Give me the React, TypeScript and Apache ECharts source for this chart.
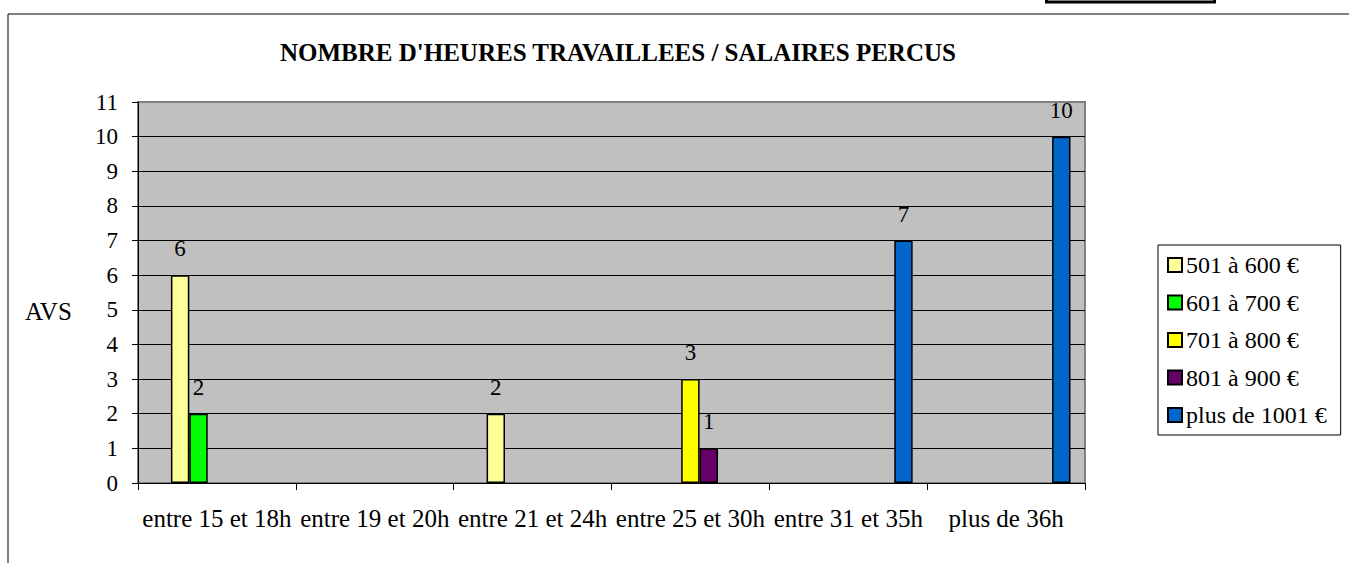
import React, { useEffect, useRef } from "react";
import * as echarts from "echarts";

const categories = [
  "entre 15 et 18h",
  "entre 19 et 20h",
  "entre 21 et 24h",
  "entre 25 et 30h",
  "entre 31 et 35h",
  "plus de 36h",
];

const seriesNames = ["", "501 à 600 €", "601 à 700 €", "701 à 800 €", "801 à 900 €", " ", "plus de 1001 €"];
const seriesColors = ["#FFFFFF", "#FFFF99", "#00FF00", "#FFFF00", "#660066", "#FFFFFF", "#0066CC"];

const emptyValues = [null, null, null, null, null, null];
const values501 = [6, null, 2, null, null, null];
const values601 = [2, null, null, null, null, null];
const values701 = [null, null, null, 3, null, null];
const values801 = [null, null, null, 1, null, null];
const values1001 = [null, null, null, null, 7, 10];

const seriesValues = [emptyValues, values501, values601, values701, values801, emptyValues, values1001];
const legendNames = ["501 à 600 €", "601 à 700 €", "701 à 800 €", "801 à 900 €", "plus de 1001 €"];

const yMin = 0;
const yMax = 11;
const yInterval = 1;

const FONT = "Liberation Serif";

export default function App() {
  const ref = useRef<HTMLDivElement>(null);
  useEffect(() => {
    if (!ref.current) return;
    const chart = echarts.init(ref.current, null, { renderer: "svg" });
    const splitColors: string[] = [];
    for (let v = yMin; v <= yMax; v += yInterval) splitColors.push(v === yMax ? "#808080" : "#000000");
    chart.setOption({
      animation: false,
      backgroundColor: "#FFFFFF",
      textStyle: { fontFamily: FONT, color: "#000" },
      title: {
        text: "NOMBRE D'HEURES TRAVAILLEES / SALAIRES PERCUS",
        left: 280,
        top: 40,
        padding: 0,
        textStyle: { fontFamily: FONT, fontWeight: "bold", fontSize: 25, color: "#000" },
      },
      legend: {
        data: legendNames,
        orient: "vertical",
        left: 1158,
        top: 245,
        padding: [8, 14, 8, 9],
        itemGap: 13.5,
        itemWidth: 14,
        itemHeight: 14,
        icon: "rect",
        borderColor: "#000",
        borderWidth: 1,
        textStyle: { fontFamily: FONT, fontSize: 24, color: "#000", padding: [0, 0, 0, -1] },
      },
      grid: {
        left: 138,
        top: 102,
        right: 264,
        bottom: 80,
        show: true,
        backgroundColor: "#C0C0C0",
        borderColor: "#808080",
        borderWidth: 2,
        containLabel: false,
      },
      xAxis: {
        type: "category",
        data: categories,
        boundaryGap: true,
        axisLine: { lineStyle: { color: "#000", width: 1 } },
        axisTick: { show: true, alignWithLabel: false, length: 7, lineStyle: { color: "#000" } },
        axisLabel: { fontFamily: FONT, fontSize: 25, color: "#000", margin: 23, interval: 0 },
        splitLine: { show: false },
      },
      yAxis: {
        type: "value",
        min: yMin,
        max: yMax,
        interval: yInterval,
        axisLine: { show: true, lineStyle: { color: "#000", width: 1 } },
        axisTick: { show: true, length: 6, lineStyle: { color: "#000" } },
        axisLabel: { fontFamily: FONT, fontSize: 23, color: "#000", margin: 20 },
        splitLine: { show: true, lineStyle: { color: splitColors, width: 1 } },
      },
      graphic: [
        {
          type: "rect",
          shape: { x: 8, y: 14, width: 1400, height: 600 },
          style: { fill: "none", stroke: "#000", lineWidth: 1 },
          silent: true,
          z: -1,
        },
        {
          type: "rect",
          shape: { x: 1046.5, y: -10, width: 168, height: 12 },
          style: { fill: "#fff", stroke: "#000", lineWidth: 3 },
          silent: true,
        },
        {
          type: "text",
          left: 25,
          top: 299,
          style: { text: "AVS", fontFamily: FONT, fontSize: 25, fill: "#000" },
          silent: true,
        },
      ],
      series: seriesValues.map((vals, i) => ({
        type: "bar",
        name: seriesNames[i],
        data: vals,
        barGap: "0%",
        barCategoryGap: "18.4%",
        itemStyle: { color: seriesColors[i], borderColor: "#000", borderWidth: 1.5 },
        label: {
          show: true,
          position: "top",
          distance: 15,
          fontFamily: FONT,
          fontSize: 23,
          color: "#000",
        },
      })),
    });
    return () => chart.dispose();
  }, []);
  return (
    <div
      ref={ref}
      style={{ position: "absolute", left: 0, top: 0, width: 1349, height: 563 }}
    />
  );
}
